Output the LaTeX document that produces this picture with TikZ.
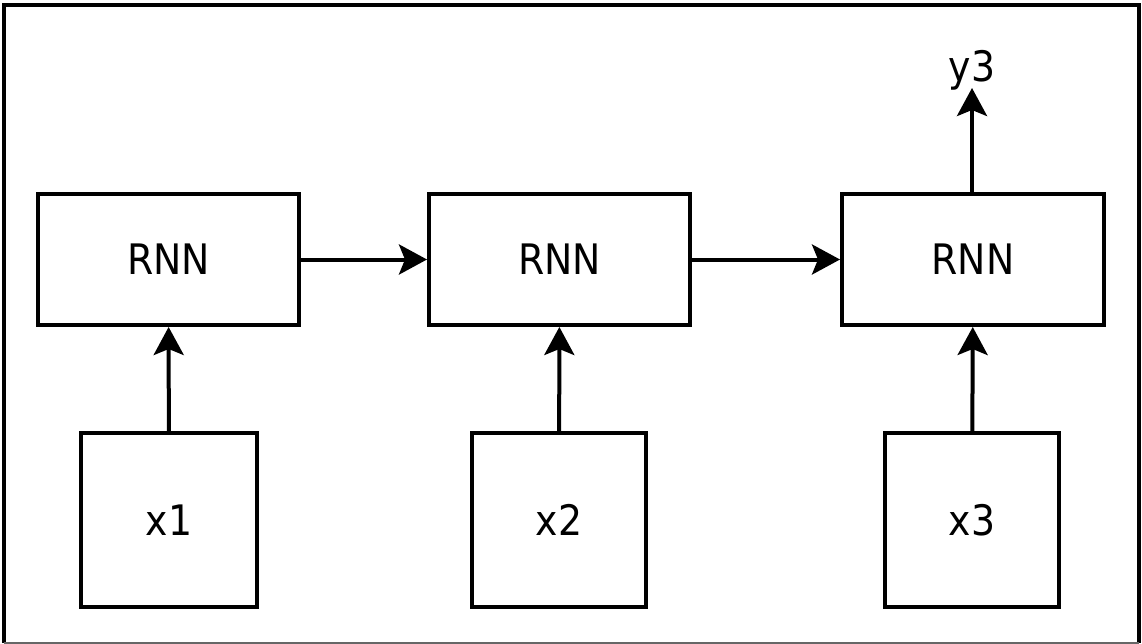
\documentclass[tikz,border=0pt]{standalone}
\usepackage{fontspec}
\setmainfont{DejaVu Sans Condensed}
\usetikzlibrary{arrows.meta}
\begin{document}
\begin{tikzpicture}[x=1pt,y=-1pt,
  box/.style={draw=black,line width=4pt,inner sep=0pt,font=\fontsize{42}{50}\selectfont},
  conn/.style={line width=4pt,-{Stealth[length=28pt,width=30pt,inset=6pt]}}]
\useasboundingbox (0,0) rectangle (1142,644);
\draw[line width=4pt] (4,643) -- (4,5) -- (1139,5) -- (1139,643);
\draw[line width=1.5pt,black!60] (4,643) -- (1139,643);
\node[box,minimum width=261pt,minimum height=131pt] (r1) at (168.5,259.5) {RNN};
\node[box,minimum width=261pt,minimum height=131pt] (r2) at (559.5,259.5) {RNN};
\node[box,minimum width=262pt,minimum height=131pt] (r3) at (973,259.5) {RNN};
\node[box,minimum width=176pt,minimum height=174pt] (x1) at (169,520) {x1};
\node[box,minimum width=174pt,minimum height=174pt] (x2) at (559,520) {x2};
\node[box,minimum width=174pt,minimum height=174pt] (x3) at (972,520) {x3};
\node[font=\fontsize{42}{50}\selectfont,inner sep=0pt] (y3) at (972,70) {y3};
\coordinate (y3a) at (972,88);
\draw[conn] (x1) -- (r1);
\draw[conn] (x2) -- (r2);
\draw[conn] (x3) -- (r3);
\draw[conn] (r1) -- (r2);
\draw[conn] (r2) -- (r3);
\draw[conn] (r3.north -| y3a) -- (y3a);
\end{tikzpicture}
\end{document}
